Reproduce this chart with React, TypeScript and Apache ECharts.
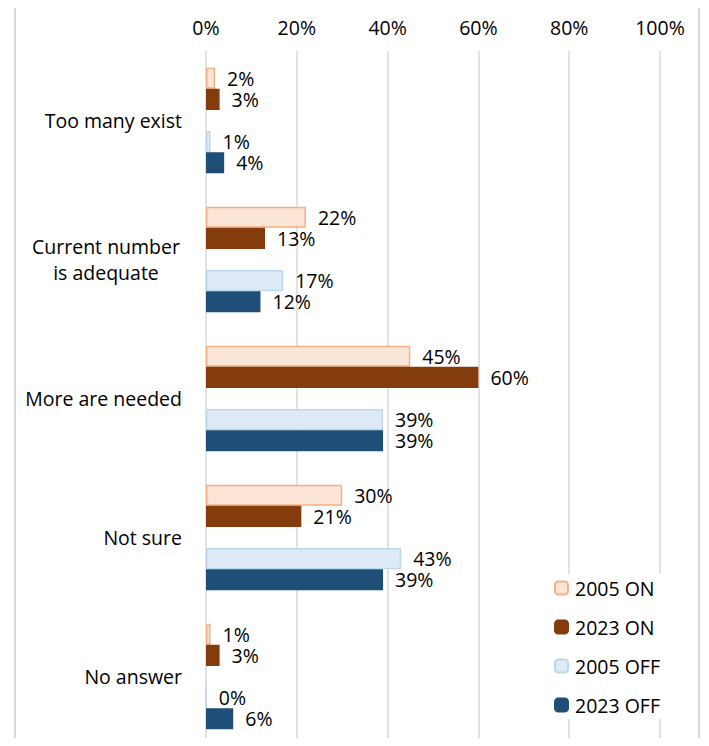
import React, { useEffect, useRef } from 'react';
import * as echarts from 'echarts';

const categories = ['Too many exist', 'Current number\nis adequate', 'More are needed', 'Not sure', 'No answer'];
const seriesNames = ['2005 ON', '2023 ON', '2005 OFF', '2023 OFF'];
const on2005 = [2, 22, 45, 30, 1];
const on2023 = [3, 13, 60, 21, 3];
const off2005 = [1, 17, 39, 43, 0];
const off2023 = [4, 12, 39, 39, 6];
const spacer = [null, null, null, null, null];

const FONT = 'Open Sans';
const FS = 19.5;

export default function App() {
  const ref = useRef<HTMLDivElement>(null);
  useEffect(() => {
    if (!ref.current) return;
    const chart = echarts.init(ref.current, null, { renderer: 'svg' });
    const label = {
      show: true,
      position: 'right' as const,
      distance: 12,
      formatter: (p: any) => `${p.value}%`,
      color: '#000',
      fontFamily: FONT,
      fontSize: FS,
    };
    const mk = (name: string, data: any[], fill: string, stroke: string) => ({
      name,
      type: 'bar',
      data,
      barGap: '0%',
      barCategoryGap: '24%',
      itemStyle: { color: fill, borderColor: stroke, borderWidth: 1.5 },
      label,
    });
    chart.setOption({
      animation: false,
      backgroundColor: '#fff',
      textStyle: { fontFamily: FONT },
      grid: { left: 206, right: 49, top: 51, height: 700, containLabel: false },
      xAxis: {
        type: 'value',
        position: 'top',
        min: 0,
        max: 100,
        interval: 20,
        axisLine: { show: false },
        axisTick: { show: false },
        axisLabel: { formatter: '{value}%', color: '#000', fontSize: FS, fontFamily: FONT, margin: 14 },
        splitLine: { lineStyle: { color: '#D9D9D9', width: 1.5 } },
      },
      yAxis: {
        type: 'category',
        inverse: true,
        data: categories,
        axisLine: { show: false },
        axisTick: { show: false },
        axisLabel: {
          color: '#000',
          fontSize: FS,
          fontFamily: FONT,
          margin: 24,
          lineHeight: 26,
          formatter: (v: string) =>
            v.includes('\n') ? v.split('\n').map((l) => `{c|${l}}`).join('\n') : v,
          rich: { c: { width: 152, align: 'center', fontSize: FS, fontFamily: FONT, color: '#000', lineHeight: 26 } },
        },
      },
      legend: {
        data: seriesNames,
        orient: 'vertical',
        left: 550,
        top: 574,
        itemWidth: 13,
        itemHeight: 13,
        itemGap: 19,
        backgroundColor: '#fff',
        padding: [4, 6, 4, 4],
        textStyle: { color: '#000', fontSize: FS, fontFamily: FONT, padding: [0, 0, 0, 2] },
      },
      graphic: [
        {
          type: 'rect',
          shape: { x: 15, y: 4, width: 684, height: 800 },
          style: { fill: 'none', stroke: '#D9D9D9', lineWidth: 2 },
          silent: true,
          z: 100,
        },
      ],
      series: [
        mk(seriesNames[0], on2005, '#FBE5D6', '#F4B183'),
        mk(seriesNames[1], on2023, '#843C0C', '#843C0C'),
        { name: 'spacer', type: 'bar', data: spacer, barGap: '0%', barCategoryGap: '24%' },
        mk(seriesNames[2], off2005, '#DEEBF7', '#BDD7EE'),
        mk(seriesNames[3], off2023, '#1F4E79', '#1F4E79'),
      ],
    });
    return () => chart.dispose();
  }, []);
  return <div ref={ref} style={{ width: 709, height: 746, margin: -8 }} />;
}
